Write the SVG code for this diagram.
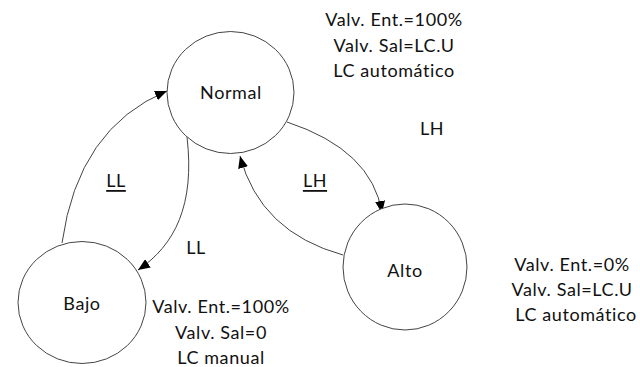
<svg xmlns="http://www.w3.org/2000/svg" width="640" height="367" viewBox="0 0 640 367">
<style>
.node{fill:#fff;stroke:#444;stroke-width:1}
.t{font-family:Lato,"Liberation Sans",sans-serif;font-size:18px;letter-spacing:0.6px;fill:#111;text-anchor:middle;dominant-baseline:central}
.c{fill:none;stroke:#444;stroke-width:1}
</style>
<defs>
<marker id="ah" viewBox="0 0 12 10" refX="12" refY="5" markerWidth="12" markerHeight="10" markerUnits="userSpaceOnUse" orient="auto">
<path d="M0,0 L12,5 L0,10 Z" fill="#000"/>
</marker>
</defs>
<rect width="640" height="367" fill="#fff"/>
<g id="connectors">
<path class="c" d="M62,243 Q78,128 167,91" marker-end="url(#ah)"/>
<path class="c" d="M187,137 C195,205 175,245 138,270" marker-end="url(#ah)"/>
<path class="c" d="M287,122 Q372,150 382,213" marker-end="url(#ah)"/>
<path class="c" d="M343,255 Q260,232 240,156" marker-end="url(#ah)"/>
</g>
<g id="normal">
<ellipse class="node" cx="230.5" cy="92.5" rx="63.5" ry="61"/>
<text class="t" x="231" y="92">Normal</text>
</g>
<g id="bajo">
<ellipse class="node" cx="82" cy="302.5" rx="64" ry="61"/>
<text class="t" x="82" y="303">Bajo</text>
</g>
<g id="alto">
<ellipse class="node" cx="405" cy="267" rx="62" ry="63"/>
<text class="t" x="405" y="270">Alto</text>
</g>
<g id="labels">
<text class="t" x="394" y="19">Valv. Ent.=100%</text>
<text class="t" x="394" y="45">Valv. Sal=LC.U</text>
<text class="t" x="394" y="70">LC automático</text>
<text class="t" x="432" y="128">LH</text>
<text class="t" x="116" y="180" text-decoration="underline">LL</text>
<text class="t" x="315" y="180" text-decoration="underline">LH</text>
<text class="t" x="196" y="247">LL</text>
<text class="t" x="221" y="306">Valv. Ent.=100%</text>
<text class="t" x="221" y="332">Valv. Sal=0</text>
<text class="t" x="221" y="357">LC manual</text>
<text class="t" x="572" y="264">Valv. Ent.=0%</text>
<text class="t" x="572" y="289">Valv. Sal=LC.U</text>
<text class="t" x="576" y="314">LC automático</text>
</g>
</svg>
